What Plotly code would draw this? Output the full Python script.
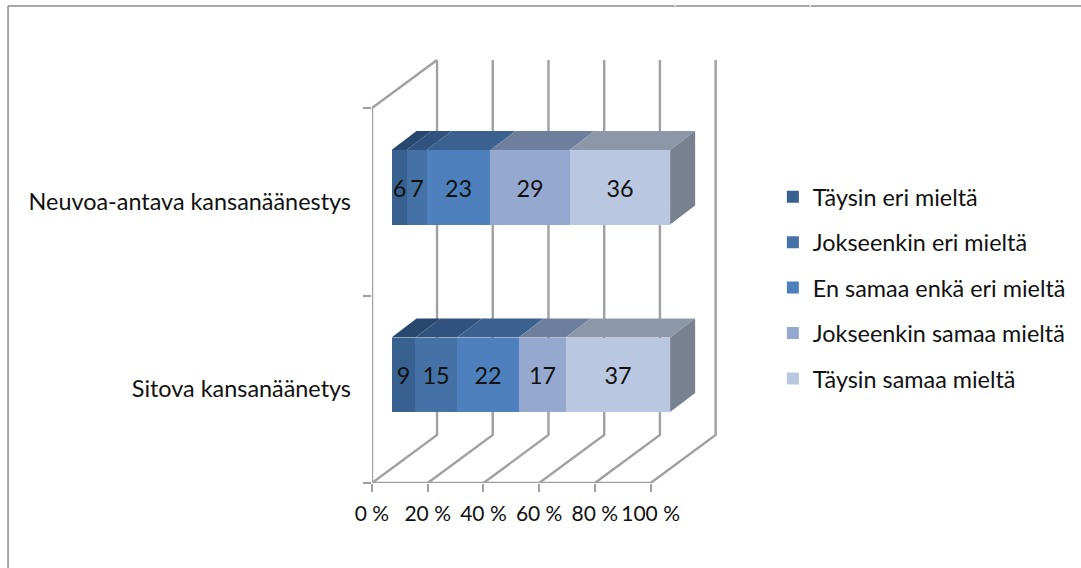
import plotly.graph_objects as go

categories = ["Sitova kansanäänetys", "Neuvoa-antava kansanäänestys"]
series_names = ["Täysin eri mieltä", "Jokseenkin eri mieltä", "En samaa enkä eri mieltä",
                "Jokseenkin samaa mieltä", "Täysin samaa mieltä"]
# shares, per series: [Sitova, Neuvoa-antava]
taysin_eri = [8.6, 5.4]
jokseenkin_eri = [14.9, 7.2]
ei_samaa_eika_eri = [22.1, 22.9]
jokseenkin_samaa = [16.9, 28.4]
taysin_samaa = [37.5, 36.1]
# printed data labels
labels_taysin_eri = ["9", "6"]
labels_jokseenkin_eri = ["15", "7"]
labels_ei_samaa_eika_eri = ["22", "23"]
labels_jokseenkin_samaa = ["17", "29"]
labels_taysin_samaa = ["37", "36"]
x_ticks = [0, 20, 40, 60, 80, 100]
x_tick_labels = ["0 %", "20 %", "40 %", "60 %", "80 %", "100 %"]

series = [taysin_eri, jokseenkin_eri, ei_samaa_eika_eri, jokseenkin_samaa, taysin_samaa]
labels = [labels_taysin_eri, labels_jokseenkin_eri, labels_ei_samaa_eika_eri,
          labels_jokseenkin_samaa, labels_taysin_samaa]
front_colors = ["#38618F", "#4471A6", "#4E80BD", "#95A9D0", "#B9C7E0"]
top_colors = ["#29486F", "#31527F", "#3A6190", "#6E7F9D", "#8D97AA"]
side_color = "#798191"
grid_color = "#A0A0A0"

# pixel geometry of the oblique projection, expressed in axis units
W, H = 1081, 568
AX_L, AX_B = 372.3, 483
PX_X, PX_Y = 2.785, 187.5
WALL_DX, WALL_DY = 65 / PX_X, 48 / PX_Y
BAR_DX, BAR_DY = 19.5 / PX_X, 14.5 / PX_Y
DEPTH_DX, DEPTH_DY = 25 / PX_X, 19 / PX_Y
BAR_W = 74.5 / PX_Y
FONT = "Lato, Carlito, sans-serif"
FS = 23.4

fig = go.Figure()

# walls and floor
gx, gy = [], []
n_cat = len(categories)
for t in x_ticks:
    gx += [t, t + WALL_DX, t + WALL_DX, None]
    gy += [0, WALL_DY, WALL_DY + n_cat, None]
gx += [0, 100, None, 0, 0, WALL_DX, None]
gy += [0, 0, None, 0, n_cat, n_cat + WALL_DY, None]
fig.add_trace(go.Scatter(x=gx, y=gy, mode="lines", line=dict(color=grid_color, width=2.4),
                         showlegend=False, hoverinfo="skip", zorder=-1, cliponaxis=False))

centers = [i + 0.5 + BAR_DY for i in range(n_cat)]

# front faces
cum = [BAR_DX] * n_cat
bases = []
for s, (name, vals, txt, col) in enumerate(zip(series_names, series, labels, front_colors)):
    bases.append(list(cum))
    fig.add_trace(go.Bar(
        name=name, legendgroup=name, x=vals, y=centers, base=list(cum), width=BAR_W,
        orientation="h", marker=dict(color=col, line=dict(width=0)),
        text=txt, textposition="inside", insidetextanchor="middle", textangle=0,
        constraintext="none", textfont=dict(family=FONT, size=FS, color="#111111"),
        zorder=0))
    cum = [c + v for c, v in zip(cum, vals)]

# top faces and right-hand side
for s, (vals, col) in enumerate(zip(series, top_colors)):
    for i in range(n_cat):
        x0, x1 = bases[s][i], bases[s][i] + vals[i]
        yt = centers[i] + BAR_W / 2
        fig.add_trace(go.Scatter(
            x=[x0, x1, x1 + DEPTH_DX, x0 + DEPTH_DX, x0],
            y=[yt, yt, yt + DEPTH_DY, yt + DEPTH_DY, yt],
            mode="lines", fill="toself", fillcolor=col, line=dict(width=0),
            showlegend=False, hoverinfo="skip", zorder=1))
for i in range(n_cat):
    xr = cum[i]
    yt, yb = centers[i] + BAR_W / 2, centers[i] - BAR_W / 2
    fig.add_trace(go.Scatter(
        x=[xr, xr + DEPTH_DX, xr + DEPTH_DX, xr, xr],
        y=[yt, yt + DEPTH_DY, yb + DEPTH_DY, yb, yt],
        mode="lines", fill="toself", fillcolor=side_color, line=dict(width=0),
        showlegend=False, hoverinfo="skip", zorder=1))

# outer frame
frame = dict(type="line", xref="paper", yref="paper", line=dict(color="#8C8C8C", width=1.5), layer="above")
def px(x): return (x - AX_L) / (W - AX_L)
def py(y): return (AX_B - y) / AX_B
frame_shapes = [dict(frame, x0=px(8.5), x1=px(8.5), y0=py(6), y1=py(568)),
                dict(frame, x0=px(8.5), x1=px(675), y0=py(6), y1=py(6)),
                dict(frame, x0=px(676), x1=px(810), y0=py(6), y1=py(6)),
                dict(frame, x0=px(811), x1=px(1081), y0=py(6), y1=py(6))]

fig.update_layout(
    width=W, height=H, autosize=False,
    margin=dict(l=AX_L, r=0, t=0, b=H - AX_B, pad=0),
    paper_bgcolor="white", plot_bgcolor="white",
    barmode="overlay", bargap=0,
    font=dict(family=FONT, size=FS, color="#111111"),
    shapes=frame_shapes,
    showlegend=True,
    legend=dict(x=px(773), y=py(175), xanchor="left", yanchor="top",
                traceorder="grouped", tracegroupgap=12,
                font=dict(family=FONT, size=FS, color="#111111"),
                bgcolor="rgba(0,0,0,0)", itemclick=False, itemdoubleclick=False),
    xaxis=dict(range=[0, (W - AX_L) / PX_X], tickmode="array", tickvals=x_ticks,
               ticktext=x_tick_labels, ticks="outside", ticklen=8, tickwidth=2,
               tickcolor=grid_color, showgrid=False, zeroline=False, showline=False,
               ticklabelstandoff=4, automargin=False, tickangle=0,
               tickfont=dict(family=FONT, size=21, color="#111111")),
    yaxis=dict(range=[0, AX_B / PX_Y], tickmode="array", tickvals=[i + 0.5 for i in range(n_cat)],
               ticktext=categories, ticks="", showgrid=False, zeroline=False, showline=False,
               ticklabelstandoff=20, automargin=False,
               minor=dict(tickmode="array", tickvals=list(range(n_cat + 1)), ticks="outside",
                          ticklen=8, tickwidth=2, tickcolor=grid_color, showgrid=False),
               tickfont=dict(family=FONT, size=FS, color="#111111")),
)
fig.write_html("out.html", config={"displayModeBar": False},
               post_script="document.body.style.margin='0';document.body.style.overflow='hidden';")
